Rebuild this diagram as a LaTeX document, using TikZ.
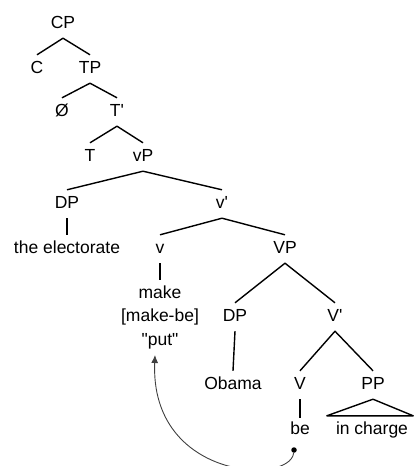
\documentclass[tikz,border=0pt]{standalone}
\usepackage{fontspec}
\setmainfont{Liberation Sans}
\usepackage{tikz}
\usetikzlibrary{arrows.meta,positioning}

\begin{document}
\begin{tikzpicture}[x=1pt, y=-1pt]
\tikzstyle{cat}=[inner sep=0pt, anchor=base, text height=18.5pt, text depth=9.5pt, font=\fontsize{17.5}{21}\selectfont]
\tikzstyle{branch}=[line width=1.4pt, line join=round]
\tikzstyle{tracedot}=[fill, shape=circle, inner sep=0pt, minimum size=5.5pt]
\useasboundingbox (0,0) rectangle (414,466);
\node[cat] (cp) at (63,28.5) {CP};
\node[cat] (c) at (37,73.5) {C};
\node[cat] (tp) at (90,73.5) {TP};
\node[cat] (null) at (62,116.5) {Ø};
\node[cat] (tbar) at (117,116.5) {T\textquotesingle};
\node[cat] (t) at (90,161.5) {T};
\node[cat] (vp) at (143,161.5) {vP};
\node[cat] (dp) at (67,208.5) {DP};
\node[cat] (vbar) at (222,208.5) {v\textquotesingle};
\node[cat] (subj) at (67,253.5) {the electorate};
\node[cat] (v) at (160,253.5) {v};
\node[cat] (bigvp) at (285,253.5) {VP};
\node[cat] (make) at (160,298.5) {make};
\node[cat] (makebe) [below=-5pt of make] {[make-be]};
\node[cat] (put) [below=-5pt of makebe] {\textquotedbl put\textquotedbl};
\node[cat] (dpb) at (235,321.5) {DP};
\node[cat] (bigvbar) at (335,321.5) {V\textquotesingle};
\node[cat] (obama) at (233,389.5) {Obama};
\node[cat] (bigv) at (300,389.5) {V};
\node[cat] (pp) at (373,389.5) {PP};
\node[cat] (be) at (300,434.5) {be};
\node[cat] (charge) at (372,434.5) {in charge};
\node[tracedot] (trace) at (294,450) {};

\draw[branch] (c.north) -- (cp.south) -- (tp.north);
\draw[branch] (null.north) -- (tp.south) -- (tbar.north);
\draw[branch] (t.north) -- (tbar.south) -- (vp.north);
\draw[branch] (dp.north) -- (vp.south) -- (vbar.north);
\draw[branch] (dp.south) -- (subj.north);
\draw[branch] (v.north) -- (vbar.south) -- (bigvp.north);
\draw[branch] (v.south) -- (make.north);
\draw[branch] (dpb.north) -- (bigvp.south) -- (bigvbar.north);
\draw[branch] (dpb.south) -- (obama.north);
\draw[branch] (bigv.north) -- (bigvbar.south) -- (pp.north);
\draw[branch] (bigv.south) -- ([yshift=-2pt]be.north);
\draw[branch] ([xshift=-9pt]charge.north west) -- (pp.south) -- ([xshift=5pt]charge.north east) -- cycle;

%movement of be up to v
\draw[line width=0.9pt, black!75, -{Latex[length=8pt, width=7pt]}] (trace) .. controls (290,485) and (150,480) .. ([xshift=-5pt]put.south);
\end{tikzpicture}
\end{document}
